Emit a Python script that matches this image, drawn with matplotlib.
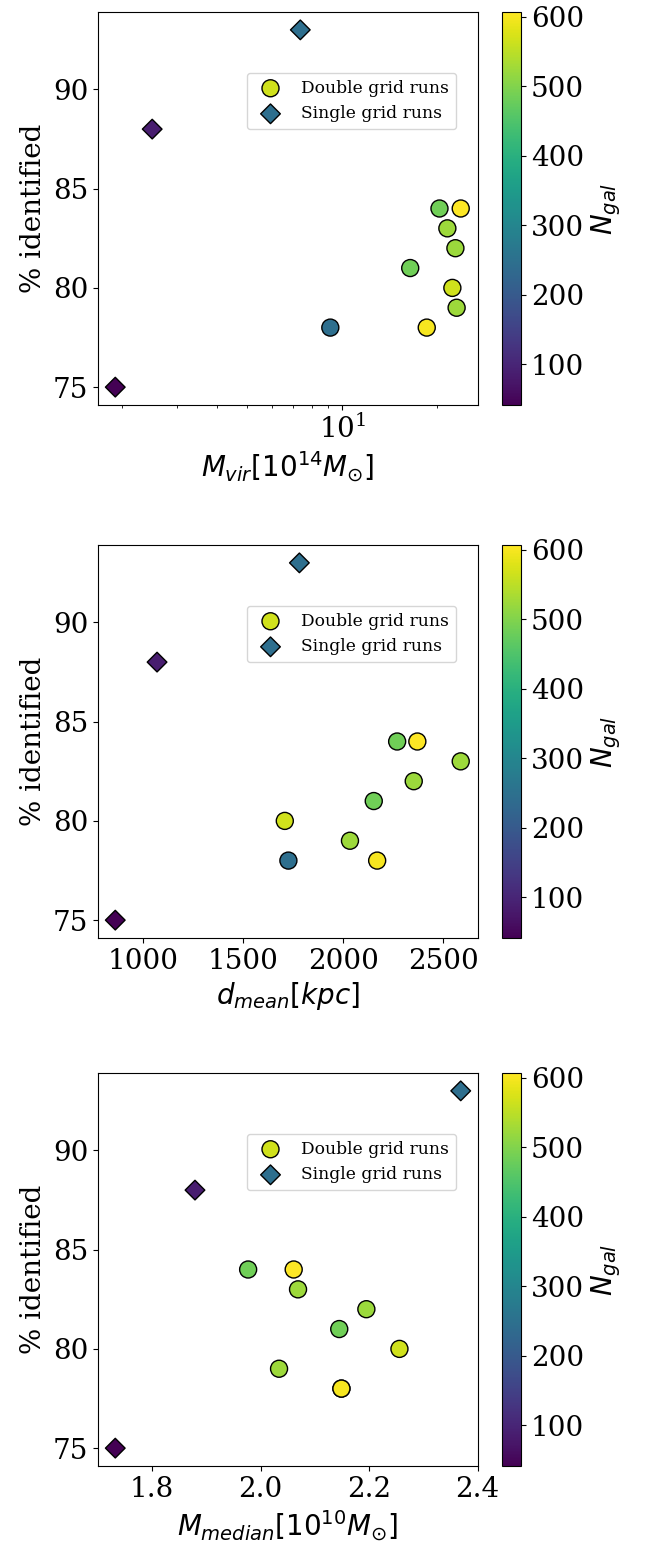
import numpy as np
import matplotlib
matplotlib.use("Agg")
import matplotlib.pyplot as plt

plt.rcParams['font.family'] = 'serif'
plt.rcParams['font.serif'] = ['DejaVu Serif']

# double grid runs (circles)
double_ident = [80, 84, 84, 83, 82, 81, 79, 78, 78]
double_ngal = [567, 485, 607, 525, 522, 485, 525, 245, 600]
double_mvir = [22.3, 20.3, 23.7, 21.5, 22.8, 16.4, 23.0, 9.16, 18.5]
double_dmean = [1708, 2270, 2371, 2588, 2353, 2153, 2034, 1726, 2170]
double_mmed = [2.256, 1.977, 2.061, 2.069, 2.195, 2.145, 2.034, 2.149, 2.149]

# single grid runs (diamonds)
single_ident = [93, 88, 75]
single_ngal = [245, 86, 41]
single_mvir = [7.36, 2.50, 1.91]
single_dmean = [1781, 1069, 860]
single_mmed = [2.369, 1.879, 1.732]

xlabels = [r'$M_{vir}[10^{14}M_{\odot}]$', r'$d_{mean}[kpc]$',
           r'$M_{median}[10^{10}M_{\odot}]$']
xdata = [(double_mvir, single_mvir), (double_dmean, single_dmean),
         (double_mmed, single_mmed)]

vmin = min(double_ngal + single_ngal)
vmax = max(double_ngal + single_ngal)

fig = plt.figure(figsize=(6.47, 15.48), dpi=100)
W, H = 647.0, 1548.0
tops = [12, 545, 1073]

for i in range(3):
    top = tops[i]
    ax = fig.add_axes([98 / W, 1 - (top + 393) / H, 380 / W, 393 / H])
    cax = fig.add_axes([502 / W, 1 - (top + 393) / H, 19 / W, 393 / H])
    xd, xs = xdata[i]
    sc = ax.scatter(xd, double_ident, c=double_ngal, cmap='viridis',
                    vmin=vmin, vmax=vmax, s=150, marker='o',
                    edgecolors='black', linewidths=1, label='Double grid runs')
    ax.scatter(xs, single_ident, c=single_ngal, cmap='viridis',
               vmin=vmin, vmax=vmax, s=100, marker='D',
               edgecolors='black', linewidths=1, label='Single grid runs')
    if i == 0:
        ax.set_xscale('log')
    ax.set_yticks([75, 80, 85, 90])
    ax.tick_params(labelsize=20)
    ax.set_ylabel('% identified', fontsize=20)
    ax.set_xlabel(xlabels[i], fontsize=20)
    ax.legend(loc='upper right', bbox_to_anchor=(0.942, 0.845),
              borderaxespad=0, fontsize=12.3)
    cb = fig.colorbar(sc, cax=cax)
    cb.ax.tick_params(labelsize=20)
    cb.set_label(r'$N_{gal}$', fontsize=20)

fig.savefig('out.png', dpi=100)
